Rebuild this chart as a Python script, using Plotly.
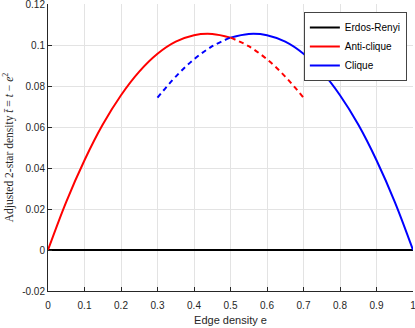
import plotly.graph_objects as go

# Edge density samples
e_vals = [0.0, 0.05, 0.1, 0.15, 0.2, 0.25, 0.3, 0.35, 0.4, 0.45, 0.5,
          0.55, 0.6, 0.65, 0.7, 0.75, 0.8, 0.85, 0.9, 0.95, 1.0]
# Clique adjusted 2-star density
clique_vals = [0.0, 0.0087, 0.0216, 0.0356, 0.0494, 0.0625, 0.0743, 0.0846,
               0.0930, 0.0994, 0.1036, 0.1054, 0.1048, 0.1016, 0.0957,
               0.0870, 0.0755, 0.0612, 0.0438, 0.0235, 0.0]
# Anti-clique adjusted 2-star density (red curve, mirror of blue)
anti_vals = [0.0, 0.0235, 0.0438, 0.0612, 0.0755, 0.0870, 0.0957, 0.1016,
             0.1048, 0.1054, 0.1036, 0.0994, 0.0930, 0.0846, 0.0743,
             0.0625, 0.0494, 0.0356, 0.0216, 0.0087, 0.0]
er_x = [0.0, 1.0]
er_y = [0.0, 0.0]

x_ticks = [0, 0.1, 0.2, 0.3, 0.4, 0.5, 0.6, 0.7, 0.8, 0.9, 1]
x_labels = ["0", "0.1", "0.2", "0.3", "0.4", "0.5", "0.6", "0.7", "0.8", "0.9", "1"]
y_ticks = [-0.02, 0, 0.02, 0.04, 0.06, 0.08, 0.1, 0.12]
y_labels = ["-0.02", "0", "0.02", "0.04", "0.06", "0.08", "0.1", "0.12"]

i_half = e_vals.index(0.5)
i_03 = e_vals.index(0.3)
i_07 = e_vals.index(0.7)

fig = go.Figure()
fig.add_trace(go.Scatter(x=er_x, y=er_y, mode="lines", name="Erdos-Renyi",
                         line=dict(color="black", width=2), cliponaxis=False))
fig.add_trace(go.Scatter(x=e_vals[:i_half + 1], y=anti_vals[:i_half + 1], mode="lines",
                         name="Anti-clique", line=dict(color="#ff0000", width=2, shape="spline")))
fig.add_trace(go.Scatter(x=e_vals[i_half:], y=clique_vals[i_half:], mode="lines",
                         name="Clique", line=dict(color="#0000ff", width=2, shape="spline")))
fig.add_trace(go.Scatter(x=e_vals[i_03:i_half + 1], y=clique_vals[i_03:i_half + 1], mode="lines",
                         showlegend=False, line=dict(color="#0000ff", width=2, dash="5px,4px", shape="spline")))
fig.add_trace(go.Scatter(x=e_vals[i_half:i_07 + 1], y=anti_vals[i_half:i_07 + 1], mode="lines",
                         showlegend=False, line=dict(color="#ff0000", width=2, dash="5px,4px", shape="spline")))

axis_common = dict(showgrid=True, gridcolor="#e3e3e3", gridwidth=1, zeroline=False,
                   showline=True, linecolor="#262626", linewidth=1, ticks="inside",
                   ticklen=4, tickcolor="#262626", automargin=False,
                   ticklabeloverflow="allow",
                   tickfont=dict(family="Liberation Sans", size=10, color="#262626"))

fig.update_layout(
    width=415, height=328,
    margin=dict(l=48, r=2, t=4, b=37, autoexpand=False),
    paper_bgcolor="white", plot_bgcolor="white",
    xaxis=dict(range=[0, 1], tickvals=x_ticks, ticktext=x_labels, ticklabelstandoff=5,
               title=dict(text="Edge density e", font=dict(family="Liberation Sans", size=11, color="#262626"), standoff=6),
               **axis_common),
    yaxis=dict(range=[-0.02, 0.12], tickvals=y_ticks, ticktext=y_labels,
               title=dict(text="Adjusted 2-star density <i>t̄</i> = <i>t</i> − <i>e</i><sup>2</sup>",
                          font=dict(family="Liberation Serif", size=11.5, color="#262626"), standoff=6),
               **axis_common),
    legend=dict(x=0.701, y=0.972, xanchor="left", yanchor="top",
                bgcolor="white", bordercolor="#444444", borderwidth=1,
                font=dict(family="Liberation Sans", size=10, color="black"),
                tracegroupgap=0, itemwidth=30),
    showlegend=True,
)

fig.write_html("out.html", config={"displayModeBar": False},
               post_script="document.body.style.margin='0';document.body.style.overflow='hidden';")
